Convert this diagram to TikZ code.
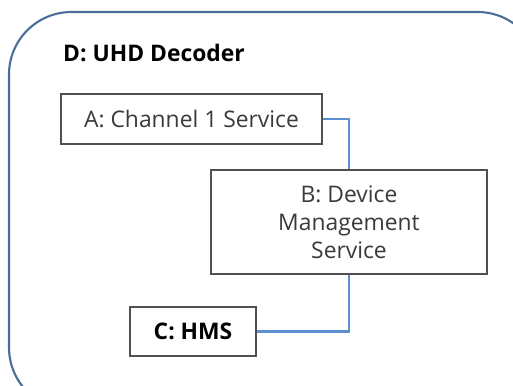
\documentclass[tikz,border=0pt]{standalone}
\usepackage{fontspec}
\setmainfont{Open Sans}
\usepackage{tikz}
\usetikzlibrary{positioning}

\definecolor{frameblue}{HTML}{4A6D99}
\definecolor{linkblue}{HTML}{5B8FD0}
\definecolor{boxgray}{HTML}{505050}
\definecolor{txtgray}{HTML}{3A3A3A}

\begin{document}
\begin{tikzpicture}[
    x=0.02cm, y=-0.02cm,
    box/.style={draw=boxgray, line width=0.9pt, fill=white, inner sep=0pt, align=center, font=\fontsize{13}{16}\selectfont},
    svc/.style={box, text=txtgray},
    hms/.style={box, font=\fontsize{13}{16}\selectfont\bfseries},
    link/.style={draw=linkblue, line width=1.2pt},
    title/.style={font=\fontsize{13}{16}\selectfont\bfseries, anchor=west}
]
\clip (0,0) rectangle (513,385);
% decoder frame
\draw[frameblue, line width=1.2pt, rounded corners=1.25cm] (9,12) rectangle (540,410);
\node[title] (decoder) at (57,53) {D: UHD Decoder};
% services
\node[svc, minimum width=5.22cm, minimum height=1.0cm] (channel) at (191.5,119) {A: Channel 1 Service};
\node[svc, minimum width=5.52cm, minimum height=2.08cm] (devmgmt) at (349,222) {B: Device\\Management\\Service};
\node[hms, minimum width=2.52cm, minimum height=0.98cm] (hms) at (193,331.5) {C: HMS};
% links
\draw[link] (channel.east) -| (devmgmt.north);
\draw[link] (devmgmt.south) |- (hms.east);
\end{tikzpicture}
\end{document}
